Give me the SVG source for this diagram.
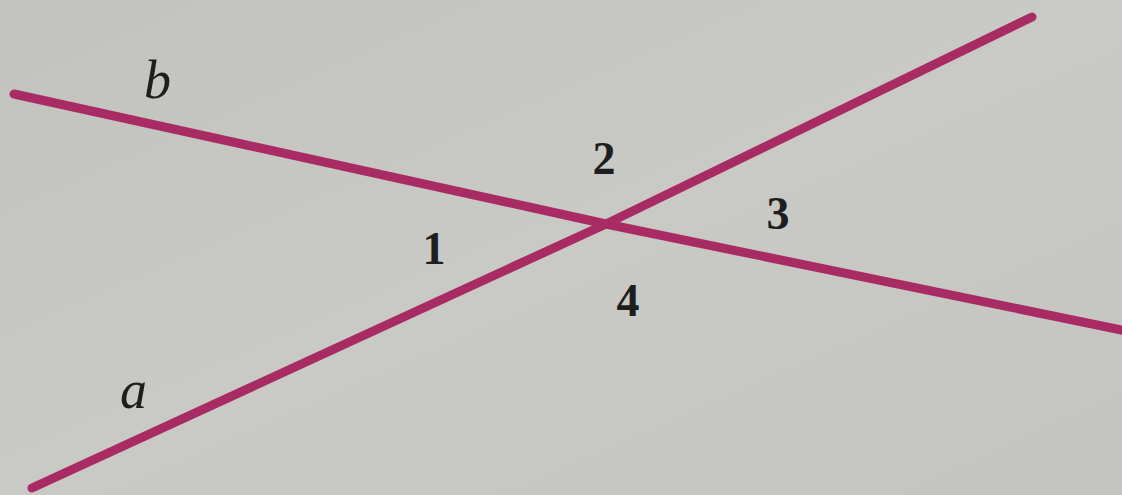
<svg xmlns="http://www.w3.org/2000/svg" width="1122" height="495" viewBox="0 0 1122 495">
<defs>
<style>
.ln{fill:none;stroke:#a92b64;stroke-width:9;stroke-linecap:round;stroke-linejoin:round}
.var{font-family:"Liberation Serif",serif;font-style:italic;font-size:54px;fill:#1e1e1e}
.num{font-family:"Liberation Serif",serif;font-weight:bold;font-size:46px;fill:#1e1e1e;text-anchor:middle}
</style>
<linearGradient id="bg" x1="0" y1="0" x2="1" y2="1">
<stop offset="0" stop-color="#c2c3bf"/>
<stop offset="0.5" stop-color="#c9cac6"/>
<stop offset="1" stop-color="#c4c5c1"/>
</linearGradient>
</defs>
<rect width="1122" height="495" fill="url(#bg)"/>
<g id="connectors">
<polyline id="line-b" class="ln" points="14,94 606,224 1126,331"/>
<polyline id="line-a" class="ln" points="32,488 606,224 1032,17"/>
</g>
<g id="label-b"><text class="var" x="144" y="98">b</text></g>
<g id="label-a"><text class="var" x="120" y="408">a</text></g>
<g id="angle-1"><text class="num" x="434" y="264">1</text></g>
<g id="angle-2"><text class="num" x="604" y="174">2</text></g>
<g id="angle-3"><text class="num" x="778" y="229">3</text></g>
<g id="angle-4"><text class="num" x="628" y="316">4</text></g>
</svg>
